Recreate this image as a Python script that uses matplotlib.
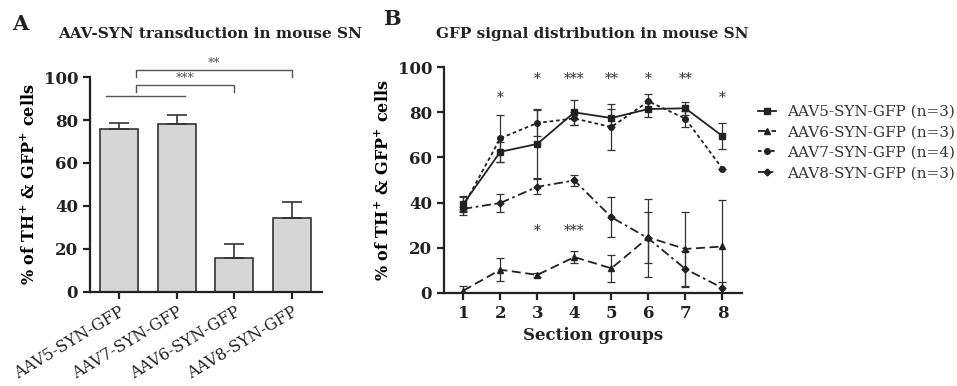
import matplotlib.pyplot as plt
import numpy as np

# panel A: bar chart
bar_labels = ["AAV5-SYN-GFP", "AAV7-SYN-GFP", "AAV6-SYN-GFP", "AAV8-SYN-GFP"]
bar_means = [76, 78, 15.5, 34.5]
bar_errs = [2.5, 4.5, 6.5, 7.5]

# panel B: line chart
sections = [1, 2, 3, 4, 5, 6, 7, 8]
aav5 = [39.3, 62.5, 66, 80, 77.5, 81.5, 81.8, 69.5]
aav5_err = [3.6, 4.5, 15, 5.7, 4, 3.7, 3, 5.6]
aav6 = [0.9, 10.2, 7.9, 15.8, 10.8, 24.5, 19.4, 20.5]
aav6_err = [2, 5, 1, 2.5, 6, 11.5, 16.5, 20.6]
aav7 = [38.3, 68.5, 75.3, 77.3, 73.5, 84.9, 77.2, 55]
aav7_err = [4, 10.5, 6, 2.8, 10, 3.2, 3.5, 0]
aav8 = [37.2, 39.8, 47, 49.8, 33.5, 24.1, 10.5, 2.1]
aav8_err = [1, 3.8, 3.3, 2.5, 9, 17.3, 8, 2.8]
legend_labels = ["AAV5-SYN-GFP (n=3)", "AAV6-SYN-GFP (n=3)",
                 "AAV7-SYN-GFP (n=4)", "AAV8-SYN-GFP (n=3)"]

# significance stars in panel B
star_top_x = [2, 3, 4, 5, 6, 7, 8]
star_top_y = [86.5, 95, 95, 95, 95, 95, 86.5]
star_top_txt = ["*", "*", "***", "**", "*", "**", "*"]
star_low_x = [3, 4]
star_low_txt = ["*", "***"]

plt.rcParams["font.family"] = ["DejaVu Serif"]
plt.rcParams["mathtext.fontset"] = "custom"
plt.rcParams["mathtext.rm"] = "DejaVu Serif:bold"
plt.rcParams["mathtext.bf"] = "DejaVu Serif:bold"

fig = plt.figure(figsize=(9.57, 3.86), dpi=100)
W, H = 957, 386


def ax_at(x0, y0, x1, y1):
    return fig.add_axes([x0 / W, 1 - y1 / H, (x1 - x0) / W, (y1 - y0) / H])


def style_axes(ax):
    for s in ["top", "right"]:
        ax.spines[s].set_visible(False)
    for s in ["left", "bottom"]:
        ax.spines[s].set_linewidth(1.6)
        ax.spines[s].set_color("#222222")
    ax.tick_params(width=1.6, length=5, color="#222222", labelcolor="#222222")
    ax.set_ylim(0, 100)
    ax.set_yticks([0, 20, 40, 60, 80, 100])
    for lab in ax.get_yticklabels():
        lab.set_fontweight("bold")
        lab.set_fontsize(12)


ylab = "% of TH$^{+}$ & GFP$^{+}$ cells"

# ---------- panel A ----------
axA = ax_at(90, 77.3, 322, 291.5)
x = np.arange(len(bar_labels))
axA.bar(x, bar_means, width=0.66, color="#d6d6d6", edgecolor="#333333", linewidth=1.2,
        yerr=[np.zeros(4), bar_errs], capsize=7,
        error_kw=dict(elinewidth=1.2, capthick=1.2, ecolor="#333333"))
axA.set_xlim(-0.5, 3.52)
style_axes(axA)
axA.set_xticks(x)
axA.set_xticklabels(bar_labels, rotation=31, ha="right", rotation_mode="anchor", fontsize=11.5)
axA.set_ylabel(ylab, fontsize=11.5, fontweight="bold", labelpad=4)

# brackets
gc = "#555555"
axA.plot([-0.23, 1.15], [91.3, 91.3], color=gc, lw=1, clip_on=False)
axA.plot([0.29, 0.29, 2.0, 2.0], [93.3, 96.3, 96.3, 93.3], color=gc, lw=1, clip_on=False)
axA.plot([0.29, 0.29, 3.0, 3.0], [100.3, 103.3, 103.3, 100.3], color=gc, lw=1, clip_on=False)
axA.text(1.15, 96.6, "***", ha="center", va="bottom", fontsize=9, color=gc)
axA.text(1.65, 103.6, "**", ha="center", va="bottom", fontsize=9, color=gc)

fig.text(12 / W, 1 - 24 / H, "A", fontsize=15, fontweight="bold", va="center", color="#222222")
fig.text(210 / W, 1 - 34 / H, "AAV-SYN transduction in mouse SN", fontsize=11,
         fontweight="bold", ha="center", va="center", color="#222222")

# ---------- panel B ----------
axB = ax_at(444, 67.3, 741.7, 292.7)
lc = "#222222"
common = dict(color=lc, lw=1.3, capsize=3, elinewidth=0.9, capthick=0.9, ecolor="#333333")
h5 = axB.errorbar(sections, aav5, yerr=aav5_err, marker="s", ms=5, ls="-", **common)
h6 = axB.errorbar(sections, aav6, yerr=aav6_err, marker="^", ms=4, ls=(0, (5, 2.5)), **common)
h7 = axB.errorbar(sections, aav7, yerr=aav7_err, marker="o", ms=4, ls=(0, (2, 1.6)), **common)
h8 = axB.errorbar(sections, aav8, yerr=aav8_err, marker="D", ms=3.5, ls=(0, (5, 2, 1.5, 2)), **common)
axB.set_xlim(0.48, 8.52)
style_axes(axB)
axB.set_xticks(sections)
for lab in axB.get_xticklabels():
    lab.set_fontweight("bold")
    lab.set_fontsize(12)
axB.set_ylabel(ylab, fontsize=11.5, fontweight="bold", labelpad=4)
axB.set_xlabel("Section groups", fontsize=12, fontweight="bold", labelpad=4, color="#222222")

for xs, ys, t in zip(star_top_x, star_top_y, star_top_txt):
    axB.text(xs, ys, t, ha="center", va="center", fontsize=10, color="#333333")
for xs, t in zip(star_low_x, star_low_txt):
    axB.text(xs, 27.5, t, ha="center", va="center", fontsize=10, color="#333333")

handles = [h[0] for h in (h5, h6, h7, h8)]
fig.legend(handles, legend_labels, loc="upper left", bbox_to_anchor=(758 / W, 1 - 105 / H),
           frameon=False, fontsize=11, handlelength=1.2, handletextpad=0.7,
           labelspacing=0.42, borderaxespad=0, borderpad=0, labelcolor="#333333")

fig.text(383 / W, 1 - 19 / H, "B", fontsize=15, fontweight="bold", va="center", color="#222222")
fig.text(592 / W, 1 - 34 / H, "GFP signal distribution in mouse SN", fontsize=11,
         fontweight="bold", ha="center", va="center", color="#222222")

fig.savefig("out.png", dpi=100)
